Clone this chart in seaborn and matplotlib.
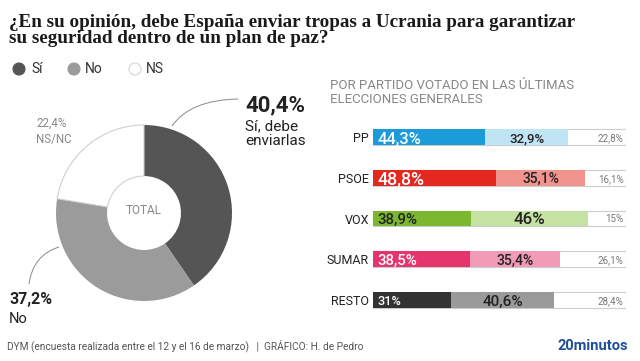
import numpy as np
import pandas as pd
import seaborn as sns
import matplotlib
matplotlib.use("Agg")
import matplotlib.pyplot as plt
from matplotlib.path import Path
from matplotlib.patches import PathPatch, Circle

# datos
total_labels = ["Sí", "No", "NS"]
total_values = [40.4, 37.2, 22.4]

partidos = ["PP", "PSOE", "VOX", "SUMAR", "RESTO"]
si = [44.3, 48.8, 38.9, 38.5, 31.0]
no = [32.9, 35.1, 46.0, 35.4, 40.6]
ns = [22.8, 16.1, 15.0, 26.1, 28.4]

col_si = ["#1b9bd7", "#e2281f", "#7cb82f", "#e6356c", "#333333"]
col_no = ["#bfe4f4", "#f1948e", "#c6e2a3", "#f29bb6", "#9a9a9a"]
txt_si = ["white", "white", "#222222", "white", "white"]

sns.set_theme(style="white")
plt.rcParams['font.family'] = ['Roboto', 'DejaVu Sans']

W, H = 640, 361
fig = plt.figure(figsize=(6.4, 3.61), dpi=100)
fig.patch.set_facecolor("white")

def fx(px):
    return px / W

def fy(py):
    return 1 - py / H

def pct(v):
    return f"{v:g}".replace(".", ",") + "%"

# --- donut ---
cx, cy, r = 144, 213, 88
ax_pie = fig.add_axes([fx(cx - r), fy(cy + r), 2 * r / W, 2 * r / H])
wedges, _ = ax_pie.pie(total_values, colors=["#555555", "#9b9b9b", "white"],
                       startangle=90, counterclock=False, radius=1,
                       wedgeprops=dict(width=0.58, linewidth=0))
wedges[2].set_edgecolor("#d0d0d0")
wedges[2].set_linewidth(0.8)
ax_pie.set_xlim(-1, 1)
ax_pie.set_ylim(-1, 1)
ax_pie.set_aspect("equal")
ax_pie.axis("off")
ax_pie.text(0, 0.03, "TOTAL", ha="center", va="center", fontsize=8.5, color="#888888")

# --- barras ---
df = pd.DataFrame({"partido": partidos, "si": si, "no": no, "ns": ns})
df["sino"] = df["si"] + df["no"]
df["tot"] = df["sino"] + df["ns"]

step = 40.75
ax_bar = fig.add_axes([fx(373), fy(300 + step / 2), 253 / W, 5 * step / H])
sns.barplot(data=df, x="tot", y="partido", hue="partido", orient="h",
            palette={p: "white" for p in partidos}, saturation=1, legend=False,
            width=0.39, edgecolor="#cccccc", linewidth=0.8, ax=ax_bar)
sns.barplot(data=df, x="sino", y="partido", hue="partido", orient="h",
            palette=dict(zip(partidos, col_no)), saturation=1, legend=False,
            width=0.39, linewidth=0, ax=ax_bar)
sns.barplot(data=df, x="si", y="partido", hue="partido", orient="h",
            palette=dict(zip(partidos, col_si)), saturation=1, legend=False,
            width=0.39, linewidth=0, ax=ax_bar)
ax_bar.set_xlim(0, 100)
ax_bar.set_ylim(4.5, -0.5)
ax_bar.set_xlabel("")
ax_bar.set_ylabel("")
ax_bar.set_xticks([])
ax_bar.tick_params(axis="y", length=0, pad=3, labelsize=9, labelcolor="#222222")
for s in ax_bar.spines.values():
    s.set_visible(False)
ax_bar.set_facecolor("none")

for i, row in df.iterrows():
    ax_bar.text(1.6, i, pct(row["si"]), ha="left", va="center_baseline",
                fontsize=3 + 0.2 * row["si"], color=txt_si[i], fontweight="medium")
    ax_bar.text(row["si"] + row["no"] / 2, i, pct(row["no"]), ha="center",
                va="center_baseline", fontsize=3 + 0.2 * row["no"], color="#222222",
                fontweight="medium")
    ax_bar.text(row["tot"] - 0.9, i, pct(row["ns"]), ha="right", va="center_baseline",
                fontsize=7, color="#777777")

# --- textos ---
ax_t = fig.add_axes([0, 0, 1, 1], facecolor="none")
ax_t.set_xlim(0, W)
ax_t.set_ylim(H, 0)
ax_t.axis("off")

serif = ['Liberation Serif', 'DejaVu Serif']
ax_t.text(9, 27, "¿En su opinión, debe España enviar tropas a Ucrania para garantizar",
          family=serif, fontweight="bold", fontsize=13.8, color="#1a1a1a", va="baseline")
ax_t.text(9, 43, "su seguridad dentro de un plan de paz?",
          family=serif, fontweight="bold", fontsize=13.8, color="#1a1a1a", va="baseline")

# leyenda
for xc, col, lab, xt in [(19, "#555555", "Sí", 31), (74, "#9b9b9b", "No", 85),
                         (135, "white", "NS", 146)]:
    ax_t.add_patch(Circle((xc, 69), 6, facecolor=col,
                          edgecolor="#d5d5d5" if col == "white" else col, lw=0.8))
    ax_t.text(xt, 69, lab, fontsize=10, color="#333333", va="center")

# etiquetas del donut
ax_t.text(245, 111, "40,4%", fontsize=16, fontweight="bold", color="#222222", va="baseline")
ax_t.text(245, 130, "Sí, debe", fontsize=11, color="#222222", va="baseline")
ax_t.text(245, 145, "enviarlas", fontsize=11, color="#222222", va="baseline")
ax_t.text(36, 127, "22,4%", fontsize=8.3, color="#888888", va="baseline")
ax_t.text(36, 143, "NS/NC", fontsize=8.3, color="#888888", va="baseline")
ax_t.text(9, 304, "37,2%", fontsize=11.5, fontweight="bold", color="#222222", va="baseline")
ax_t.text(9, 323, "No", fontsize=10.5, color="#222222", va="baseline")

for pts in [[(172, 126), (190, 100), (238, 99)], [(59, 247), (33, 255), (29, 284)]]:
    ax_t.add_patch(PathPatch(Path(pts, [Path.MOVETO, Path.CURVE3, Path.CURVE3]),
                             facecolor="none", edgecolor="#888888", lw=0.7))

ax_t.text(330, 89, "POR PARTIDO VOTADO EN LAS ÚLTIMAS", fontsize=9.5, color="#888888", va="baseline")
ax_t.text(330, 103, "ELECCIONES GENERALES", fontsize=9.5, color="#888888", va="baseline")

ax_t.text(7, 346, "DYM (encuesta realizada entre el 12 y el 16 de marzo)   |  GRÁFICO: H. de Pedro",
          fontsize=7.3, color="#555555", va="center")
ax_t.text(628, 346, "20minutos", fontsize=10.5, fontweight="bold", color="#1f4e9a",
          va="center", ha="right")

fig.savefig("out.png", dpi=100)
